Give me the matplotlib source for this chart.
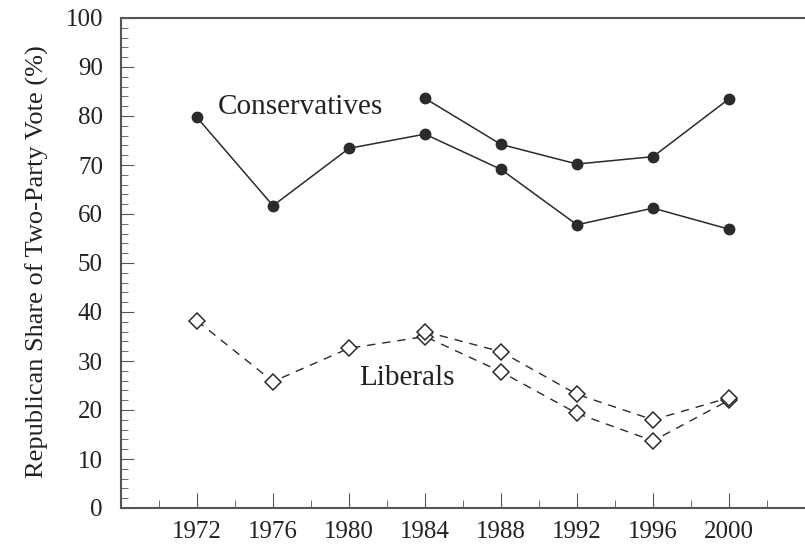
import numpy as np
import matplotlib.pyplot as plt
from matplotlib.ticker import MultipleLocator

# election years
years = [1972, 1976, 1980, 1984, 1988, 1992, 1996, 2000]
years_late = [1984, 1988, 1992, 1996, 2000]

# Republican share of two-party vote (%)
cons_a = [79.7, 61.7, 73.4, 76.3, 69.1, 57.8, 61.2, 56.9]
cons_b = [83.6, 74.2, 70.2, 71.7, 83.5]
lib_a = [38.2, 25.8, 32.6, 35.0, 27.8, 19.3, 13.7, 22.0]
lib_b = [36.0, 31.9, 23.2, 18.0, 22.5]

plt.rcParams['font.family'] = ['Liberation Serif', 'DejaVu Serif']

fig = plt.figure(figsize=(8.05, 5.5), dpi=100)
ax = fig.add_axes([121 / 805, 1 - 508 / 550, 684 / 805, 490 / 550])

line_col = '#2b2b2b'
ax.plot(years, cons_a, '-', color=line_col, lw=1.1, marker='o', ms=7.5,
        mfc=line_col, mec=line_col)
ax.plot(years_late, cons_b, '-', color=line_col, lw=1.1, marker='o', ms=7.5,
        mfc=line_col, mec=line_col)
ax.plot(years, lib_a, color=line_col, lw=1.0, ls=(0, (6, 5)), marker='D',
        ms=8.3, mfc='white', mec=line_col, mew=1.1)
ax.plot(years_late, lib_b, color=line_col, lw=1.0, ls=(0, (6, 5)), marker='D',
        ms=8.3, mfc='white', mec=line_col, mew=1.1)

ax.text(1973.1, 81.9, 'Conservatives', fontsize=21, va='center', ha='left',
        color='#222222')
ax.text(1980.55, 26.5, 'Liberals', fontsize=21, va='center', ha='left',
        color='#222222')

ax.set_xlim(1968, 1968 + 684 / 19)
ax.set_ylim(0, 100)
ax.set_xticks(years)
ax.xaxis.set_minor_locator(MultipleLocator(2))
ax.yaxis.set_major_locator(MultipleLocator(10))
ax.yaxis.set_minor_locator(MultipleLocator(2))
ax.tick_params(axis='both', which='both', direction='in', colors='#555555',
               labelcolor='#222222', labelsize=18)
ax.tick_params(axis='x', which='major', length=11, pad=9)
ax.tick_params(axis='x', which='minor', length=6)
ax.tick_params(axis='y', which='major', length=9, pad=13)
ax.tick_params(axis='y', which='minor', length=5)

for side in ['left', 'bottom', 'top']:
    ax.spines[side].set_color('#555555')
    ax.spines[side].set_linewidth(1.5)
ax.spines['right'].set_visible(False)

fig.text(37 / 805, 1 - 262 / 550, 'Republican Share of Two-Party Vote (%)',
         rotation=90, fontsize=19, ha='center', va='center', color='#222222')

fig.savefig('out.png', dpi=100)
